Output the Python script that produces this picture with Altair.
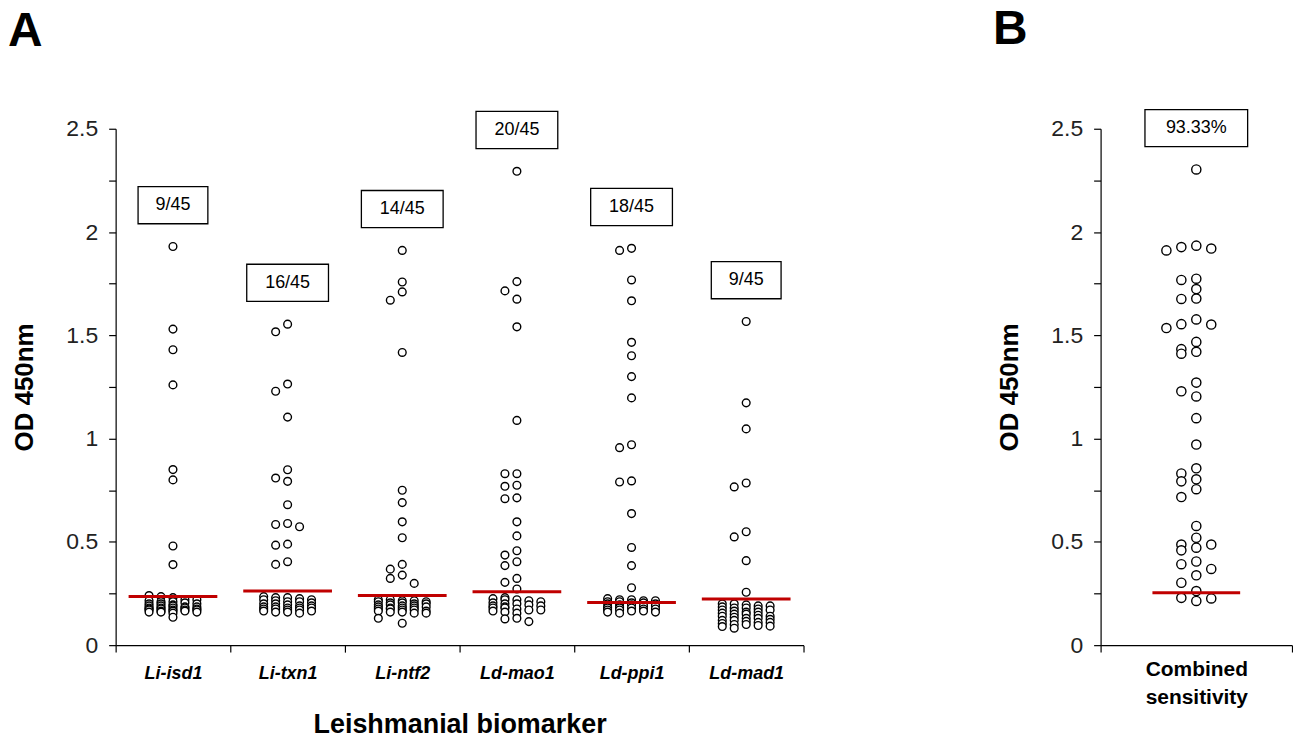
import altair as alt
import pandas as pd

# ---------------- data ----------------
groups = ["Li-isd1", "Li-txn1", "Li-ntf2", "Ld-mao1", "Ld-ppi1", "Ld-mad1"]

li_isd1 = [1.93, 1.53, 1.43, 1.26, 0.85, 0.80, 0.48, 0.39, 0.24,
           0.235, 0.23, 0.22, 0.22, 0.215, 0.21, 0.21, 0.205, 0.20, 0.20, 0.20, 0.195,
           0.19, 0.19, 0.19, 0.185, 0.185, 0.18, 0.18, 0.18, 0.18, 0.175, 0.175, 0.175,
           0.17, 0.17, 0.17, 0.17, 0.165, 0.165, 0.165, 0.16, 0.16, 0.16, 0.155, 0.135]
li_txn1 = [1.554, 1.517, 1.264, 1.229, 1.104, 0.849, 0.809, 0.793, 0.68, 0.589, 0.584,
           0.573, 0.489, 0.484, 0.404, 0.391,
           0.235, 0.23, 0.23, 0.225, 0.22, 0.22, 0.215, 0.21, 0.21, 0.205, 0.20, 0.20,
           0.195, 0.19, 0.19, 0.185, 0.185, 0.18, 0.18, 0.18, 0.175, 0.175, 0.17, 0.17,
           0.165, 0.165, 0.16, 0.16, 0.155]
li_ntf2 = [1.911, 1.758, 1.71, 1.67, 1.417, 0.75, 0.69, 0.597, 0.52, 0.391, 0.368, 0.339,
           0.323, 0.299,
           0.22, 0.22, 0.215, 0.215, 0.21, 0.21, 0.205, 0.205, 0.20, 0.20, 0.195, 0.195,
           0.19, 0.19, 0.185, 0.185, 0.18, 0.18, 0.18, 0.175, 0.175, 0.17, 0.17, 0.165,
           0.165, 0.16, 0.16, 0.155, 0.155, 0.13, 0.106]
ld_mao1 = [2.294, 1.76, 1.715, 1.675, 1.541, 1.088, 0.83, 0.83, 0.774, 0.769, 0.713,
           0.709, 0.597, 0.529, 0.457, 0.436, 0.404, 0.385, 0.323, 0.304, 0.272,
           0.23, 0.225, 0.22, 0.22, 0.215, 0.21, 0.205, 0.20, 0.20, 0.195, 0.19, 0.19,
           0.185, 0.18, 0.18, 0.175, 0.17, 0.17, 0.165, 0.16, 0.155, 0.13, 0.127, 0.114]
ld_ppi1 = [1.921, 1.911, 1.768, 1.667, 1.466, 1.401, 1.30, 1.197, 0.97, 0.956, 0.795,
           0.79, 0.637, 0.473, 0.385, 0.278,
           0.225, 0.22, 0.22, 0.215, 0.215, 0.21, 0.21, 0.205, 0.205, 0.20, 0.20, 0.195,
           0.195, 0.19, 0.19, 0.185, 0.185, 0.18, 0.18, 0.18, 0.175, 0.175, 0.17, 0.17,
           0.165, 0.165, 0.16, 0.16, 0.155]
ld_mad1 = [1.567, 1.173, 1.047, 0.785, 0.766, 0.549, 0.524, 0.409, 0.256,
           0.20, 0.20, 0.195, 0.19, 0.19, 0.185, 0.18, 0.18, 0.175, 0.17, 0.17, 0.165,
           0.16, 0.16, 0.155, 0.15, 0.15, 0.145, 0.14, 0.14, 0.135, 0.13, 0.13, 0.125,
           0.12, 0.12, 0.115, 0.11, 0.11, 0.105, 0.10, 0.10, 0.095, 0.092, 0.09, 0.082]
series = [li_isd1, li_txn1, li_ntf2, ld_mao1, ld_ppi1, ld_mad1]

cutoffs = [0.235, 0.262, 0.24, 0.259, 0.207, 0.223]
positives = ["9/45", "16/45", "14/45", "20/45", "18/45", "9/45"]

combined_name = "Combined sensitivity"
combined = [2.303, 1.934, 1.92, 1.911, 1.927, 1.768, 1.774, 1.724, 1.676, 1.678,
            1.577, 1.554, 1.535, 1.552, 1.468, 1.433, 1.411, 1.42, 1.271, 1.229,
            1.204, 1.099, 0.971, 0.856, 0.831, 0.793, 0.803, 0.755, 0.717, 0.577,
            0.52, 0.487, 0.459, 0.472, 0.487, 0.405, 0.369, 0.338, 0.392, 0.302,
            0.262, 0.226, 0.214, 0.229]
combined_cutoff = 0.254
combined_label = "93.33%"

# ---------------- layout helpers ----------------
FONT = "Liberation Sans"
RED = "#c00000"
A_W, B_W, H = 690, 192, 518


def swarm_offsets(values, slot_px, bin_w=0.045):
    """Beeswarm-like column layout: bin close values, spread them in up to 5 columns."""
    order = sorted(range(len(values)), key=lambda i: -values[i])
    bins = []
    for i in order:
        if bins and values[bins[-1][0]] - values[i] <= bin_w:
            bins[-1].append(i)
        else:
            bins.append([i])
    offs = [0.0] * len(values)
    for b in bins:
        n = len(b)
        if n <= 5:
            slots = [0, -1, 1, -2, 2][:n]
        else:
            slots = [[-2, -1, 0, 1, 2][k % 5] for k in range(n)]
        for i, s in zip(b, slots):
            offs[i] = s * slot_px
    return offs


def box_rows(names, vals_list, labels):
    rows = []
    for g, vals, lab in zip(names, vals_list, labels):
        top = max(vals) + 0.2
        rows.append({"group": g, "label": lab, "ymid": top,
                     "ylo": top - 0.09, "yhi": top + 0.09, "n": len(lab)})
    return pd.DataFrame(rows)


pts_a = []
for g, vals in zip(groups, series):
    for v, d in zip(vals, swarm_offsets(vals, 12)):
        pts_a.append({"group": g, "value": v, "dx": d})
pts_a = pd.DataFrame(pts_a)
cut_a = pd.DataFrame({"group": groups, "value": cutoffs})
box_a = box_rows(groups, series, positives)

pts_b = pd.DataFrame({"group": combined_name, "value": combined,
                      "dx": swarm_offsets(combined, 15)})
cut_b = pd.DataFrame({"group": [combined_name], "value": [combined_cutoff]})
box_b = box_rows([combined_name], [combined], [combined_label])

y_scale = alt.Scale(domain=[0, 2.5], nice=False, zero=True)
y_axis = alt.Axis(
    title="OD 450nm", values=[i * 0.25 for i in range(11)],
    labelExpr="datum.value % 0.5 == 0 ? toString(datum.value) : ''",
    titleFontSize=26, titleFont=FONT, titleFontWeight="bold", titleColor="black",
    labelFontSize=23, labelFont=FONT, labelColor="#222", labelPadding=11,
    tickSize=7, titlePadding=28, grid=False,
    domainColor="black", tickColor="black", domainWidth=1.2, tickWidth=1.2,
)


def panel(pts, cut, box, width, cats, x_axis, tick_len, box_widths, marker_size):
    step = width / len(cats)
    x_scale = alt.Scale(type="band", domain=cats, paddingInner=0, paddingOuter=0)
    X = alt.X("group:N", scale=x_scale, axis=x_axis)
    points = alt.Chart(pts).mark_point(
        shape="circle", filled=True, fill="white", stroke="black",
        strokeWidth=1.4, size=marker_size, opacity=1,
    ).encode(
        x=X,
        xOffset=alt.XOffset("dx:Q", scale=alt.Scale(domain=[-step / 2, step / 2],
                                                     range=[0, step])),
        y=alt.Y("value:Q", scale=y_scale, axis=y_axis),
    )
    red = alt.Chart(cut).mark_tick(color=RED, thickness=3, size=tick_len,
                                   opacity=1).encode(
        x=X, y=alt.Y("value:Q", scale=y_scale, axis=y_axis))
    layers = [points, red]
    for n, w in box_widths.items():
        layers.append(
            alt.Chart(box).transform_filter(f"datum.n == {n}").mark_bar(
                fill="white", stroke="black", strokeWidth=1.3, width=w, opacity=1
            ).encode(x=X, y=alt.Y("ylo:Q", scale=y_scale, axis=y_axis), y2="yhi:Q")
        )
    layers.append(
        alt.Chart(box).mark_text(font=FONT, fontSize=18, color="black").encode(
            x=X, y=alt.Y("ymid:Q", scale=y_scale, axis=y_axis), text="label:N")
    )
    return alt.layer(*layers).properties(width=width, height=H)


axis_common = dict(labelAngle=0, tickBand="extent", tickSize=7, labelColor="black",
                   labelFont=FONT, titleFont=FONT, titleColor="black", grid=False,
                   domainColor="black", tickColor="black", domainWidth=1.2,
                   tickWidth=1.2)

x_axis_a = alt.Axis(title="Leishmanial biomarker", labelFontSize=18,
                    labelFontWeight="bold", labelFontStyle="italic", labelPadding=12,
                    titleFontSize=27, titleFontWeight="bold", titlePadding=30,
                    **axis_common)
x_axis_b = alt.Axis(title=None, labelFontSize=21, labelFontWeight="bold",
                    labelPadding=6, labelLineHeight=29,
                    labelExpr="split(datum.label, ' ')", **axis_common)

title_kw = dict(anchor="start", fontSize=48, font=FONT, fontWeight="bold",
                color="black", dx=-4, offset=55)
chart_a = panel(pts_a, cut_a, box_a, A_W, groups, x_axis_a, 89,
                {4: 70, 5: 82}, 60).properties(title=alt.TitleParams("A", **title_kw))
chart_b = panel(pts_b, cut_b, box_b, B_W, [combined_name], x_axis_b, 88,
                {6: 103}, 85).properties(title=alt.TitleParams("B", **title_kw))

chart = alt.hconcat(chart_a, chart_b, spacing=189).resolve_scale(
    x="independent", xOffset="independent", y="independent"
).properties(
    padding={"left": 8, "top": 5, "right": 0, "bottom": 0},
    background="white",
).configure_view(stroke=None)

chart.save("out.html", embed_options={"renderer": "svg", "actions": False})
